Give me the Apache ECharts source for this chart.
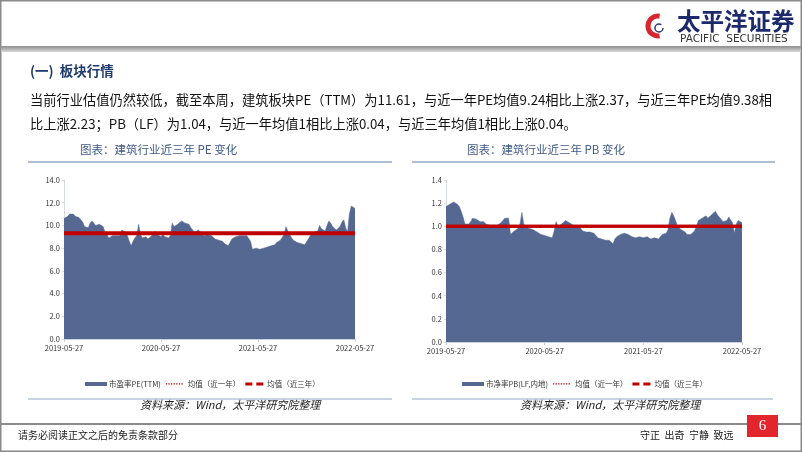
<!DOCTYPE html>
<html>
<head>
<meta charset="utf-8">
<script src="https://cdn.jsdelivr.net/npm/echarts@6/dist/echarts.min.js"></script>
<style>
html,body{margin:0;padding:0;background:#fff;}
#c{width:802px;height:452px;}
</style>
</head>
<body>
<div id="c"></div>
<script>
// ---- data ----
const tickLabels = ['2019-05-27', '2020-05-27', '2021-05-27', '2022-05-27'];
const tickIndex = [0, 52, 104, 156];

const peValues = [
10.6,10.6,10.8,11.0,10.9,11.0,10.8,10.7,10.7,10.6,
10.3,9.9,9.8,9.8,10.2,10.4,10.3,10.0,10.0,10.1,
10.0,9.9,9.4,9.2,8.9,9.0,9.1,9.0,9.1,9.2,
9.1,9.6,9.7,9.4,9.1,8.6,8.2,8.6,8.9,9.1,
10.1,9.2,8.9,8.8,9.0,8.8,8.9,9.1,9.3,9.5,
9.2,9.1,9.0,9.2,9.0,9.0,8.9,9.1,10.2,9.9,
10.0,10.1,10.2,10.4,10.3,10.2,10.1,10.1,9.8,9.6,
9.4,9.5,9.6,9.5,9.3,9.1,9.2,9.2,9.1,9.1,
9.0,8.8,8.7,8.7,8.6,8.6,8.4,8.3,8.2,8.5,
8.8,8.9,9.0,9.1,9.1,9.2,9.1,9.2,9.1,9.0,
8.6,7.9,8.0,8.0,8.0,7.9,8.0,8.0,8.0,8.1,
8.1,8.2,8.2,8.3,8.5,8.6,8.7,8.8,9.2,9.9,
9.5,9.5,8.9,8.7,8.6,8.5,8.4,8.4,8.3,8.3,
8.4,8.8,9.1,9.2,9.4,9.4,9.5,10.0,9.7,9.8,
9.5,10.0,10.4,10.2,9.9,9.8,9.6,9.5,9.9,10.3,
10.5,9.8,9.4,11.0,11.7,11.6,11.5
];
const peAvg1y = 9.24;
const peAvg3y = 9.38;

const pbValues = [
1.17,1.18,1.19,1.20,1.21,1.21,1.19,1.17,1.13,1.08,
1.02,1.02,1.02,1.04,1.07,1.08,1.06,1.05,1.04,1.03,
1.04,1.02,1.03,1.01,1.00,1.01,1.00,1.01,1.02,1.03,
1.04,1.07,1.08,1.07,0.93,0.92,0.96,0.97,0.98,1.02,
1.12,1.02,0.99,0.98,0.98,0.97,0.97,0.96,0.95,0.96,
0.93,0.93,0.92,0.92,0.91,0.91,0.90,0.96,1.04,1.00,
1.00,1.02,1.03,1.05,1.04,1.03,1.03,1.01,0.99,0.98,
1.00,0.98,0.96,0.95,0.95,0.94,0.95,0.95,0.94,0.92,
0.90,0.90,0.89,0.89,0.88,0.89,0.88,0.87,0.85,0.89,
0.91,0.92,0.93,0.94,0.94,0.94,0.93,0.92,0.91,0.90,
0.90,0.91,0.91,0.90,0.90,0.90,0.91,0.90,0.89,0.89,
0.90,0.89,0.89,0.90,0.93,0.94,0.94,0.97,1.07,1.12,
1.09,1.05,1.00,0.99,0.97,0.96,0.95,0.93,0.93,0.93,
0.94,0.96,1.00,1.05,1.04,1.07,1.06,1.09,1.07,1.06,
1.10,1.11,1.13,1.10,1.09,1.06,1.04,1.05,1.05,1.08,
1.09,1.03,0.94,1.02,1.05,1.04,1.03
];
const pbAvg1y = 1.0;
const pbAvg3y = 1.0;

const peName = '市盈率PE(TTM)';
const pbName = '市净率PB(LF,内地)';
const avg1Name = '均值（近一年）';
const avg3Name = '均值（近三年）';

// ---- chart ----
const FONT = '"Noto Sans CJK SC", "Noto Sans", sans-serif';
const AREA = '#546891';
const RED = '#C00000';
const categories = peValues.map((_, i) => String(i));
const last = peValues.length - 1;

// legend icon shapes (22 x 8 box; tiny corner squares fix the bounding box)
const CORNERS = 'M0,0h0.05v0.05h-0.05zM21.95,7.95h0.05v0.05h-0.05z';
const ICON_RECT = 'path://' + CORNERS + 'M0,2h22v4h-22z';
let dots = '';
for (let x = 2; x < 20; x += 2.6) dots += 'M' + x + ',3.3h1.3v1.3h-1.3z';
const ICON_DOT = 'path://' + CORNERS + dots;
const ICON_DASH = 'path://' + CORNERS + 'M2,2.5h7v3h-7zM13,2.5h7v3h-7z';

function xAxisCfg(gridIndex) {
  return {
    type: 'category', gridIndex, data: categories, boundaryGap: false,
    axisLine: { lineStyle: { color: '#C9D1DE', width: 1 } },
    axisTick: { show: true, length: 3, interval: (i) => tickIndex.includes(i), lineStyle: { color: '#C9D1DE' } },
    axisLabel: {
      interval: (i) => tickIndex.includes(i),
      formatter: (v) => { const k = tickIndex.indexOf(Number(v)); return k >= 0 ? tickLabels[k] : ''; },
      color: '#333', fontSize: 7.5, fontFamily: FONT, margin: 5
    },
    splitLine: { show: false }
  };
}
function yAxisCfg(gridIndex, max, interval) {
  return {
    type: 'value', gridIndex, min: 0, max, interval,
    axisLine: { show: true, lineStyle: { color: '#D5DAE3' } },
    axisTick: { show: true, length: 2, lineStyle: { color: '#D5DAE3' } },
    axisLabel: { formatter: (v) => v.toFixed(1), color: '#333', fontSize: 7.5, fontFamily: FONT, margin: 4 },
    splitLine: { show: false }
  };
}
function avgSeries(name, xi, val, z, w) {
  return {
    name, type: 'line', xAxisIndex: xi, yAxisIndex: xi,
    data: [[0, val], [last, val]], symbol: 'none', silent: true, z,
    lineStyle: { color: RED, width: w, type: 'solid' }, itemStyle: { color: RED }
  };
}
function legendCfg(left, areaName) {
  return {
    left, top: 375, itemWidth: 22, itemHeight: 8, itemGap: 3, symbolKeepAspect: false,
    textStyle: { fontSize: 7.5, color: '#333', fontFamily: FONT, padding: [0, 0, 0, -3] },
    data: [
      { name: areaName, icon: ICON_RECT, itemStyle: { color: AREA } },
      { name: avg1Name, icon: ICON_DOT, itemStyle: { color: RED } },
      { name: avg3Name, icon: ICON_DASH, itemStyle: { color: RED } }
    ]
  };
}

const chart = echarts.init(document.getElementById('c'), null, { renderer: 'canvas' });

const T = (text, x, y, opt) => ({
  type: 'text', silent: true,
  style: Object.assign({ text, x, y, fill: '#111', fontFamily: FONT, fontSize: 13, verticalAlign: 'middle' }, opt || {})
});
const L = (x1, y1, x2, y2, color, w) => ({
  type: 'line', silent: true, shape: { x1, y1, x2, y2 }, style: { stroke: color, lineWidth: w }
});

const graphics = [
  { type: 'rect', silent: true, shape: { x: 0.75, y: 0.75, width: 800.5, height: 450.5 }, style: { fill: null, stroke: '#8a8a8a', lineWidth: 1.5 } },
  { type: 'rect', silent: true, shape: { x: 1, y: 46, width: 800, height: 6 },
    style: { fill: new echarts.graphic.LinearGradient(0, 0, 0, 1, [{ offset: 0, color: '#8c8c8c' }, { offset: 1, color: '#d9d9d9' }]) } },
  // logo
  { type: 'arc', silent: true, shape: { cx: 658, cy: 26, r: 10, startAngle: Math.PI * 0.45, endAngle: Math.PI * 1.55 }, style: { stroke: '#D9262E', lineWidth: 5, fill: null } },
  { type: 'arc', silent: true, shape: { cx: 659, cy: 28, r: 4, startAngle: 0, endAngle: Math.PI * 1.7 }, style: { stroke: '#2B3A80', lineWidth: 1.5, fill: null } },
  T('太平洋证券', 677, 21, { fontSize: 23.5, fontWeight: 'bold', fill: '#1C2A6C' }),
  T('PACIFIC  SECURITIES', 680, 39.5, { fontSize: 10.5, fill: '#333', fontFamily: '"DejaVu Sans", sans-serif' }),
  // section + body
  T('(一)  板块行情', 30, 71, { fontSize: 13.5, fontWeight: 'bold', fill: '#1F3A6E' }),
  T('当前行业估值仍然较低，截至本周，建筑板块PE（TTM）为11.61，与近一年PE均值9.24相比上涨2.37，与近三年PE均值9.38相', 30, 100, { fontSize: 13.25 }),
  T('比上涨2.23；PB（LF）为1.04，与近一年均值1相比上涨0.04，与近三年均值1相比上涨0.04。', 30, 124, { fontSize: 13.25 }),
  // chart titles
  T('图表：建筑行业近三年 PE 变化', 80, 150, { fontSize: 11.5, fill: '#3F5A88' }),
  T('图表：建筑行业近三年 PB 变化', 467, 150, { fontSize: 11.5, fill: '#3F5A88' }),
  L(28, 162, 392, 162, '#8EAACB', 1.5),
  L(412, 162, 775, 162, '#8EAACB', 1.5),
  // sources
  L(28, 399, 392, 399, '#8EAACB', 1),
  L(412, 399, 773, 399, '#8EAACB', 1),
  T('资料来源：Wind，太平洋研究院整理', 140, 405, { fontSize: 11, fontStyle: 'italic', fill: '#222' }),
  T('资料来源：Wind，太平洋研究院整理', 520, 405, { fontSize: 11, fontStyle: 'italic', fill: '#222' }),
  // footer
  { type: 'rect', silent: true, shape: { x: 1, y: 423, width: 800, height: 2 }, style: { fill: '#8a8a8a' } },
  T('请务必阅读正文之后的免责条款部分', 18, 435, { fontSize: 10, fill: '#222' }),
  T('守正  出奇  宁静  致远', 640, 435, { fontSize: 10, fill: '#222' }),
  { type: 'rect', silent: true, shape: { x: 747, y: 415, width: 31, height: 22 }, style: { fill: '#E3262E' } },
  T('6', 762.5, 426, { fontSize: 15, fill: '#fff', textAlign: 'center', fontFamily: '"Liberation Serif", serif' })
];

chart.setOption({
  animation: false,
  backgroundColor: '#fff',
  grid: [
    { left: 64, top: 180, width: 291, height: 159 },
    { left: 446, top: 180, width: 296, height: 162 }
  ],
  xAxis: [xAxisCfg(0), xAxisCfg(1)],
  yAxis: [yAxisCfg(0, 14, 2), yAxisCfg(1, 1.4, 0.2)],
  legend: [legendCfg(80, peName), legendCfg(457, pbName)],
  series: [
    { name: peName, type: 'line', xAxisIndex: 0, yAxisIndex: 0, data: peValues, symbol: 'none',
      lineStyle: { width: 0.5, color: AREA }, itemStyle: { color: AREA }, areaStyle: { color: AREA, opacity: 1 }, z: 2 },
    avgSeries(avg1Name, 0, peAvg1y, 3, 2.2),
    avgSeries(avg3Name, 0, peAvg3y, 4, 2.2),
    { name: pbName, type: 'line', xAxisIndex: 1, yAxisIndex: 1, data: pbValues, symbol: 'none',
      lineStyle: { width: 0.5, color: AREA }, itemStyle: { color: AREA }, areaStyle: { color: AREA, opacity: 1 }, z: 2 },
    avgSeries(avg1Name, 1, pbAvg1y, 3, 3),
    avgSeries(avg3Name, 1, pbAvg3y, 4, 3)
  ],
  graphic: { elements: graphics }
});
</script>
</body>
</html>
